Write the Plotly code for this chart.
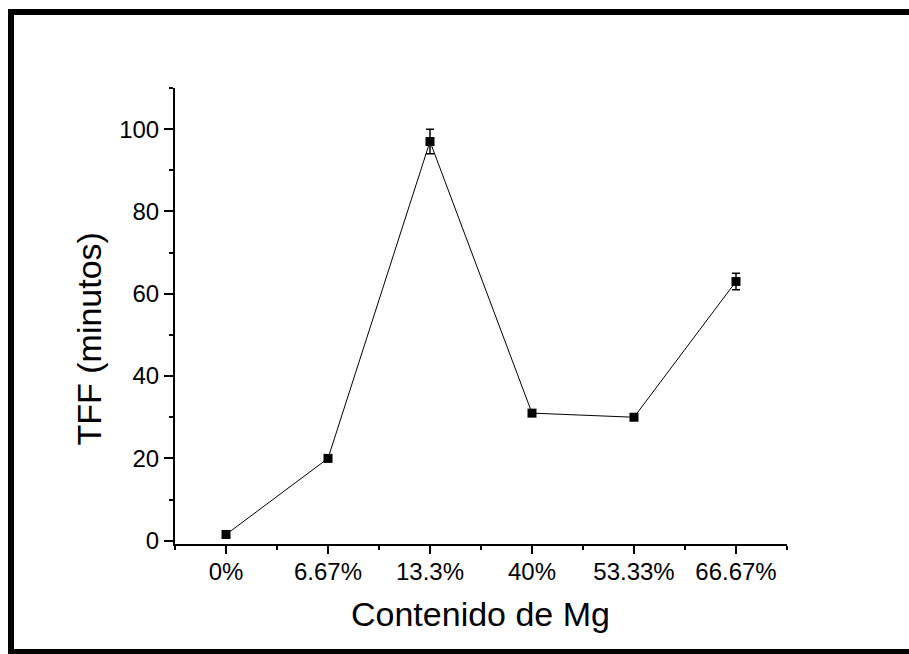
import plotly.graph_objects as go

categories = ["0%", "6.67%", "13.3%", "40%", "53.33%", "66.67%"]
tff_values = [1.5, 20, 97, 31, 30, 63]
tff_errors = [0, 0, 3, 0, 0, 2]

FONT = "Liberation Sans, Arial, sans-serif"
W, H = 909, 654
L, R, T, B = 175, 787, 88, 544  # plot area pixel box
PW, PH = R - L, B - T

def px(x):
    return (x - L) / PW

def py(y):
    return (B - y) / PH

xpos = list(range(len(categories)))

fig = go.Figure()
fig.add_trace(go.Scatter(
    x=xpos, y=tff_values,
    mode="lines+markers",
    line=dict(color="black", width=1),
    marker=dict(symbol="square", size=9, color="black"),
    error_y=dict(type="data", array=tff_errors, visible=True,
                 color="black", thickness=1.5, width=4),
    showlegend=False,
))

fig.update_layout(
    width=W, height=H,
    margin=dict(l=L, r=W - R, t=T, b=H - B, pad=0),
    paper_bgcolor="white", plot_bgcolor="white",
    font=dict(family=FONT, color="black", size=24),
    xaxis=dict(
        range=[-0.5, len(categories) - 0.5],
        tickvals=xpos, ticktext=categories,
        showline=True, linecolor="black", linewidth=2,
        ticks="outside", ticklen=8, tickwidth=2, tickcolor="black",
        ticklabelstandoff=-3,
        minor=dict(tick0=0.5, dtick=1, ticks="outside", ticklen=4,
                   tickwidth=2, tickcolor="black", showgrid=False),
        showgrid=False, zeroline=False,
        tickfont=dict(size=24, family=FONT, color="black"),
    ),
    yaxis=dict(
        range=[-0.8, 110],
        tick0=0, dtick=20,
        showline=True, linecolor="black", linewidth=2,
        ticks="outside", ticklen=9, tickwidth=2, tickcolor="black",
        minor=dict(dtick=10, ticks="outside", ticklen=4,
                   tickwidth=2, tickcolor="black", showgrid=False),
        showgrid=False, zeroline=False,
        tickfont=dict(size=24, family=FONT, color="black"),
    ),
    annotations=[
        dict(text="Contenido de Mg", xref="paper", yref="paper",
             x=px(480), y=py(614), xanchor="center", yanchor="middle",
             showarrow=False, font=dict(size=34, family=FONT, color="black")),
        dict(text="TFF (minutos)", xref="paper", yref="paper",
             x=px(88), y=py(339.5), xanchor="center", yanchor="middle",
             textangle=-90, showarrow=False,
             font=dict(size=34, family=FONT, color="black")),
    ],
    shapes=[
        dict(type="rect", xref="paper", yref="paper",
             x0=px(11), x1=px(915), y0=py(652), y1=py(12),
             line=dict(color="black", width=6), fillcolor="rgba(0,0,0,0)",
             layer="above"),
    ],
)

fig.write_html("out.html")
